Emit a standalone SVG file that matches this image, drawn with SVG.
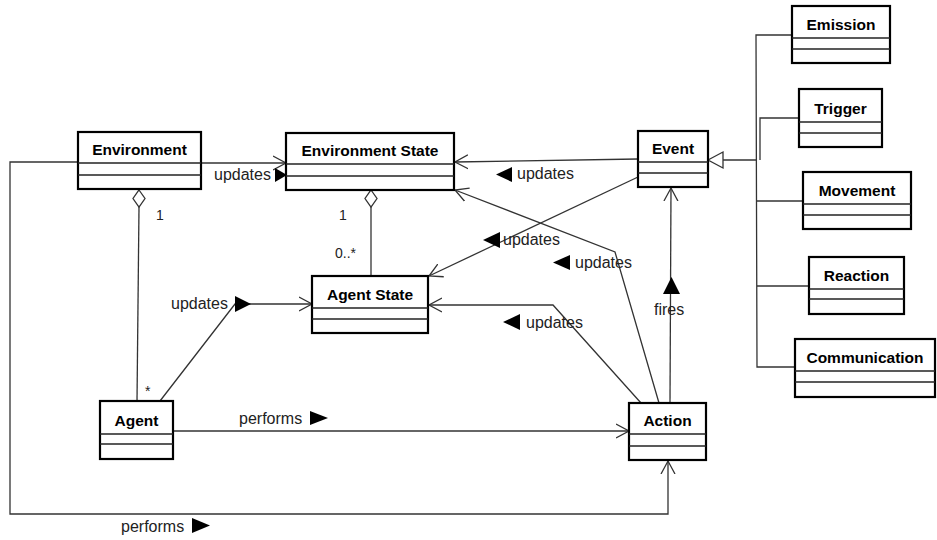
<svg xmlns="http://www.w3.org/2000/svg" width="937" height="540" viewBox="0 0 937 540">
  <style>
    .box rect { fill: #fff; stroke: #000; stroke-width: 2.2; }
    .box line { stroke: #222; stroke-width: 1.4; }
    .name { font-family: "Liberation Sans", Arial, sans-serif; font-weight: bold; font-size: 15.5px; fill: #000; text-anchor: middle; }
    .edge { fill: none; stroke: #333; stroke-width: 1.3; }
    .lbl { font-family: "Liberation Sans", Arial, sans-serif; font-size: 16px; fill: #222; }
    .mult { font-family: "Liberation Sans", Arial, sans-serif; font-size: 14px; fill: #222; }
    .dir { fill: #000; }
  </style>
  <defs>
    <marker id="open" markerWidth="15" markerHeight="16" refX="13" refY="8" orient="auto" markerUnits="userSpaceOnUse">
      <path d="M0,1 L13,8 L0,15" fill="none" stroke="#333" stroke-width="1.3"/>
    </marker>
  </defs>
  <rect width="937" height="540" fill="#fff"/>

  <!-- connectors -->
  <g id="connectors">
    <!-- Environment updates Environment State -->
    <line class="edge" x1="201" y1="163" x2="286" y2="163" marker-end="url(#open)"/>
    <!-- Event updates Environment State -->
    <line class="edge" x1="638" y1="159" x2="455" y2="162" marker-end="url(#open)"/>
    <!-- Event updates Agent State -->
    <line class="edge" x1="638" y1="177" x2="429" y2="276" marker-end="url(#open)"/>
    <!-- Action updates Environment State -->
    <polyline class="edge" points="659,403 615,252 455,190" marker-end="url(#open)"/>
    <!-- Action updates Agent State -->
    <polyline class="edge" points="641,403 553,305 429,305" marker-end="url(#open)"/>
    <!-- Action fires Event -->
    <line class="edge" x1="670" y1="403" x2="671" y2="188" marker-end="url(#open)"/>
    <!-- Agent updates Agent State -->
    <polyline class="edge" points="160,401 235,304 312,304" marker-end="url(#open)"/>
    <!-- Agent performs Action -->
    <line class="edge" x1="173" y1="431" x2="629" y2="431" marker-end="url(#open)"/>
    <!-- Environment performs Action -->
    <polyline class="edge" points="78,162 10,162 10,514 668,514 668,461" marker-end="url(#open)"/>
    <!-- Environment aggregates Agent -->
    <line class="edge" x1="139" y1="207" x2="137" y2="401"/>
    <path d="M139,190 L145,198.5 L139,207 L133,198.5 Z" fill="#fff" stroke="#333" stroke-width="1.3"/>
    <!-- Environment State aggregates Agent State -->
    <line class="edge" x1="371" y1="207" x2="371" y2="276"/>
    <path d="M371,190 L377,198.5 L371,207 L365,198.5 Z" fill="#fff" stroke="#333" stroke-width="1.3"/>
    <!-- Event generalization tree -->
    <line class="edge" x1="723" y1="160" x2="757" y2="160"/>
    <polyline class="edge" points="792,35 756,35 757,367 795,367"/>
    <polyline class="edge" points="799,118 760,118 760,160"/>
    <line class="edge" x1="757" y1="201" x2="803" y2="201"/>
    <line class="edge" x1="757" y1="286" x2="809" y2="286"/>
    <path d="M708,160 L723,152 L723,168 Z" fill="#fff" stroke="#333" stroke-width="1.3"/>

    <!-- connector labels -->
    <text class="lbl" x="214" y="180">updates</text>
    <path class="dir" d="M275,168 L287,175 L275,182 Z"/>

    <path class="dir" d="M496,174.5 L512,167 L512,182 Z"/>
    <text class="lbl" x="517" y="179">updates</text>

    <path class="dir" d="M483,240 L500,232 L500,248 Z"/>
    <text class="lbl" x="503" y="245">updates</text>

    <path class="dir" d="M553,262.5 L570,255 L570,270 Z"/>
    <text class="lbl" x="575" y="268">updates</text>

    <path class="dir" d="M503,322 L520,314 L520,330 Z"/>
    <text class="lbl" x="526" y="328">updates</text>

    <path class="dir" d="M671.5,277 L680,294 L663,294 Z"/>
    <text class="lbl" x="654" y="315">fires</text>

    <text class="lbl" x="171" y="309">updates</text>
    <path class="dir" d="M235,296 L251,304 L235,312 Z"/>

    <text class="lbl" x="239" y="424">performs</text>
    <path class="dir" d="M310,411 L328,418 L310,425 Z"/>

    <text class="lbl" x="121" y="532">performs</text>
    <path class="dir" d="M192,518 L210,525.5 L192,533 Z"/>

    <text class="mult" x="156" y="220">1</text>
    <text class="mult" x="145" y="396">*</text>
    <text class="mult" x="339" y="220">1</text>
    <text class="mult" x="335" y="258">0..*</text>
  </g>

  <!-- classes -->
  <g id="environment" class="box">
    <rect x="78" y="132" width="123" height="57"/>
    <line x1="78" y1="163" x2="201" y2="163"/>
    <line x1="78" y1="175" x2="201" y2="175"/>
    <text class="name" x="139.5" y="155">Environment</text>
  </g>
  <g id="environment-state" class="box">
    <rect x="286" y="133" width="168" height="57"/>
    <line x1="286" y1="164" x2="454" y2="164"/>
    <line x1="286" y1="176" x2="454" y2="176"/>
    <text class="name" x="370" y="156">Environment State</text>
  </g>
  <g id="event" class="box">
    <rect x="638" y="131" width="70" height="56"/>
    <line x1="638" y1="162" x2="708" y2="162"/>
    <line x1="638" y1="173" x2="708" y2="173"/>
    <text class="name" x="673" y="154">Event</text>
  </g>
  <g id="agent-state" class="box">
    <rect x="312" y="276" width="116" height="57"/>
    <line x1="312" y1="308" x2="428" y2="308"/>
    <line x1="312" y1="319" x2="428" y2="319"/>
    <text class="name" x="370" y="300">Agent State</text>
  </g>
  <g id="agent" class="box">
    <rect x="100" y="401" width="73" height="58"/>
    <line x1="100" y1="434" x2="173" y2="434"/>
    <line x1="100" y1="444" x2="173" y2="444"/>
    <text class="name" x="136.5" y="426">Agent</text>
  </g>
  <g id="action" class="box">
    <rect x="629" y="403" width="77" height="57"/>
    <line x1="629" y1="434" x2="706" y2="434"/>
    <line x1="629" y1="446" x2="706" y2="446"/>
    <text class="name" x="667.5" y="426">Action</text>
  </g>
  <g id="emission" class="box">
    <rect x="792" y="6" width="98" height="57"/>
    <line x1="792" y1="38" x2="890" y2="38"/>
    <line x1="792" y1="49" x2="890" y2="49"/>
    <text class="name" x="841" y="30">Emission</text>
  </g>
  <g id="trigger" class="box">
    <rect x="799" y="89" width="83" height="58"/>
    <line x1="799" y1="122" x2="882" y2="122"/>
    <line x1="799" y1="133" x2="882" y2="133"/>
    <text class="name" x="840.5" y="114">Trigger</text>
  </g>
  <g id="movement" class="box">
    <rect x="803" y="172" width="108" height="57"/>
    <line x1="803" y1="204" x2="911" y2="204"/>
    <line x1="803" y1="215" x2="911" y2="215"/>
    <text class="name" x="857" y="196">Movement</text>
  </g>
  <g id="reaction" class="box">
    <rect x="809" y="257" width="95" height="57"/>
    <line x1="809" y1="289" x2="904" y2="289"/>
    <line x1="809" y1="299" x2="904" y2="299"/>
    <text class="name" x="856.5" y="281">Reaction</text>
  </g>
  <g id="communication" class="box">
    <rect x="795" y="339" width="140" height="58"/>
    <line x1="795" y1="371" x2="935" y2="371"/>
    <line x1="795" y1="382" x2="935" y2="382"/>
    <text class="name" x="865" y="363">Communication</text>
  </g>
</svg>
